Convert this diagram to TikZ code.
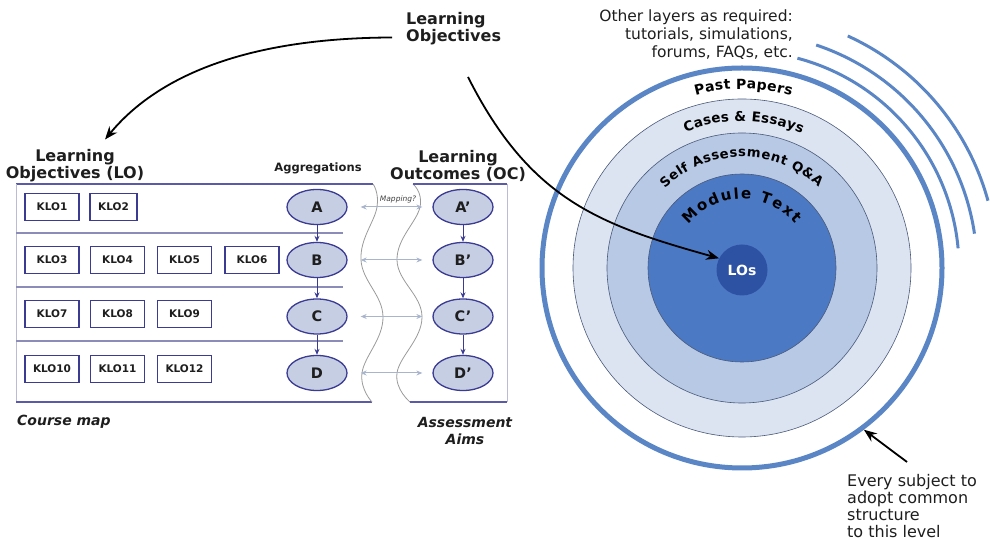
\documentclass[tikz,border=0pt]{standalone}
\usepackage{fontspec}
\setmainfont{DejaVu Sans}
\usetikzlibrary{shapes.geometric,arrows.meta,decorations.text}
\definecolor{navy}{HTML}{3B3B94}
\definecolor{aggfill}{HTML}{C6CEE4}
\definecolor{framecol}{HTML}{5A5AA8}
\definecolor{framelight}{HTML}{B8BCD4}
\definecolor{sepcol}{HTML}{8C8CB8}
\definecolor{wavecol}{HTML}{9A9A9A}
\definecolor{mapcol}{HTML}{A9B5CC}
\definecolor{ringblue}{HTML}{5B86C6}
\definecolor{casesfill}{HTML}{DCE4F1}
\definecolor{selffill}{HTML}{B8C9E6}
\definecolor{modfill}{HTML}{4C79C3}
\definecolor{losfill}{HTML}{2D51A3}
\definecolor{circline}{HTML}{4A5A7A}
\definecolor{txt}{HTML}{1E1E1E}
\newcommand\pastfont{\bfseries\fontsize{14}{14}\selectfont}
\newcommand\casefont{\bfseries\fontsize{13.5}{14}\selectfont}
\newcommand\selffont{\bfseries\fontsize{13.2}{14}\selectfont}
\newcommand\modfont{\bfseries\fontsize{15}{15}\selectfont}
\begin{document}
\begin{tikzpicture}[x=1pt,y=1pt,
  klo/.style={draw=navy, line width=1.3pt, fill=white, minimum width=54pt, minimum height=27pt,
    inner sep=0pt, text=txt, font=\bfseries\fontsize{10.5}{12}\selectfont},
  agg/.style={ellipse, draw=navy, line width=1.3pt, fill=aggfill, minimum width=60pt, minimum height=35pt,
    inner sep=0pt, text=txt, font=\bfseries\fontsize{14.5}{14}\selectfont},
  head/.style={align=center, inner sep=0pt, text=txt, font=\bfseries\fontsize{16}{17}\selectfont},
  varrow/.style={draw=navy, line width=1pt, -{Stealth[length=6pt,width=5pt]}},
  maparrow/.style={draw=mapcol, line width=1pt, {Stealth[length=6pt,width=5pt]}-{Stealth[length=6pt,width=5pt]},
    shorten <=13pt, shorten >=10pt},
  bigarrow/.style={draw=black, line width=1.8pt, -{Stealth[length=13pt,width=10pt]}},
  frameline/.style={draw=framecol, line width=1.2pt},
  framelt/.style={draw=framelight, line width=1pt},
  sepline/.style={draw=sepcol, line width=1.3pt},
  waveline/.style={draw=wavecol, line width=0.8pt},
  disc/.style={circle, draw=circline, line width=0.6pt, inner sep=0pt},
  layer/.style={draw=ringblue, line width=3pt}
]
\useasboundingbox (0,0) rectangle (990,540);

% ---------------- left panel frames ----------------
\draw[frameline] (373,356) -- (16,356);
\draw[framelt] (16,356) -- (16,138);
\draw[frameline] (16,138) -- (372,138);
\draw[waveline] plot[smooth, tension=0.7] coordinates {(373,356) (377,333) (361,280) (383,223) (362,167) (372,138)};
\draw[waveline] plot[smooth, tension=0.7] coordinates {(413,356) (420,333) (397,280) (422,223) (397,167) (410,138)};
\draw[frameline] (413,356) -- (507,356);
\draw[framelt] (507,356) -- (507,138);
\draw[frameline] (410,138) -- (507,138);
\draw[sepline] (16,307) -- (343,307);
\draw[sepline] (16,253) -- (343,253);
\draw[sepline] (16,199) -- (343,199);

% ---------------- KLO boxes ----------------
\node[klo] (k1) at (52,333) {KLO1};
\node[klo, minimum width=47pt] (k2) at (113.5,333) {KLO2};
\node[klo] (k3) at (52,280) {KLO3};
\node[klo] (k4) at (117.5,280) {KLO4};
\node[klo] (k5) at (184.5,280) {KLO5};
\node[klo] (k6) at (252,280) {KLO6};
\node[klo] (k7) at (52,226) {KLO7};
\node[klo] (k8) at (117.5,226) {KLO8};
\node[klo] (k9) at (184.5,226) {KLO9};
\node[klo] (k10) at (52,171) {KLO10};
\node[klo] (k11) at (117.5,171) {KLO11};
\node[klo] (k12) at (184.5,171) {KLO12};

% ---------------- aggregation ellipses ----------------
\node[agg] (A) at (317,333) {A};
\node[agg] (B) at (317,280) {B};
\node[agg] (C) at (317,223.5) {C};
\node[agg] (D) at (317,167) {D};
\node[agg] (Ap) at (463,333) {A’};
\node[agg] (Bp) at (463,280) {B’};
\node[agg] (Cp) at (463,223.5) {C’};
\node[agg] (Dp) at (463,167) {D’};
\draw[varrow] (A) -- (B);
\draw[varrow] (B) -- (C);
\draw[varrow] (C) -- (D);
\draw[varrow] (Ap) -- (Bp);
\draw[varrow] (Bp) -- (Cp);
\draw[varrow] (Cp) -- (Dp);
\draw[maparrow] (A) -- (Ap);
\draw[maparrow] (B) -- (Bp);
\draw[maparrow] (C) -- (Cp);
\draw[maparrow] (D) -- (Dp);
\node[inner sep=0pt, text=black!75, font=\itshape\fontsize{7.5}{8}\selectfont] (map) at (398,341) {Mapping?};

% ---------------- headings ----------------
\node[head] (lolabel) at (75,374) {Learning\\Objectives (LO)};
\node[head] (oclabel) at (458,374) {Learning\\Outcomes (OC)};
\node[inner sep=0pt, text=txt, font=\bfseries\fontsize{11.5}{12}\selectfont] (aggl) at (318,372) {Aggregations};
\node[head, align=left, anchor=west] (lobj) at (406,511) {Learning\\Objectives};
\node[inner sep=0pt, anchor=west, text=txt, font=\bfseries\itshape\fontsize{14}{16}\selectfont] (cmap) at (17,118) {Course map};
\node[inner sep=0pt, align=center, text=txt, font=\bfseries\itshape\fontsize{14}{16}\selectfont] (aaims) at (465,109) {Assessment\\Aims};

% ---------------- concentric circles ----------------
\node[circle, draw=ringblue, line width=5pt, minimum size=400pt, inner sep=0pt] (ring) at (742,272) {};
\node[disc, fill=casesfill, minimum size=338pt] (cases) at (742,272) {};
\node[disc, fill=selffill, minimum size=270pt] (self) at (742,272) {};
\node[disc, fill=modfill, minimum size=188pt] (module) at (742,272) {};
\node[circle, fill=losfill, minimum size=51pt, inner sep=0pt, text=white, font=\bfseries\fontsize{14}{14}\selectfont] (los) at (742,270) {LOs};

\path[decorate, decoration={text along path, text align={fit to path}, text={|\pastfont|Past Papers}}]
  (742,272) ++(105:179) arc[start angle=105, end angle=74, radius=179];
\path[decorate, decoration={text along path, text align={fit to path}, text={|\casefont|Cases {\&} Essays}}]
  (742,272) ++(112.5:147) arc[start angle=112.5, end angle=66, radius=147];
\path[decorate, decoration={text along path, text align={fit to path}, text={|\selffont|Self Assessment Q{\&}A}}]
  (742,272) ++(134:111) arc[start angle=134, end angle=46.5, radius=111];
\path[decorate, decoration={text along path, text align={fit to path}, text={|\modfont|Module Text}}]
  (742,272) ++(141:69) arc[start angle=141, end angle=40, radius=69];

% other layers arcs
\draw[layer] (742,272) ++(75.2:217) arc[start angle=75.2, end angle=5.2, radius=217];
\draw[layer] (742,272) ++(71.6:235) arc[start angle=71.6, end angle=8.4, radius=235];
\draw[layer] (742,272) ++(65.5:255) arc[start angle=65.5, end angle=15.3, radius=255];

\node[anchor=north east, align=right, inner sep=0pt, text=txt, font=\fontsize{15.5}{18}\selectfont] (other) at (793,530.3)
  {Other layers as required:\\tutorials, simulations,\\forums, FAQs, etc.};
\node[anchor=north west, align=left, inner sep=0pt, text=txt, font=\fontsize{16}{17}\selectfont] (every) at (847,66)
  {Every subject to\\adopt common\\structure\\to this level};

% ---------------- black arrows ----------------
\coordinate (lotail) at (468,463);
\coordinate (evtail) at (907,78);
\draw[bigarrow] ([xshift=-14pt,yshift=-8.5pt]lobj.west) .. controls (230,502) and (150,455) .. ([xshift=30pt,yshift=10pt]lolabel.north);
\draw[bigarrow] (lotail) .. controls (530,340) and (600,315) .. (los.153);
\draw[bigarrow] (evtail) -- (ring.-53.6);
\end{tikzpicture}
\end{document}
